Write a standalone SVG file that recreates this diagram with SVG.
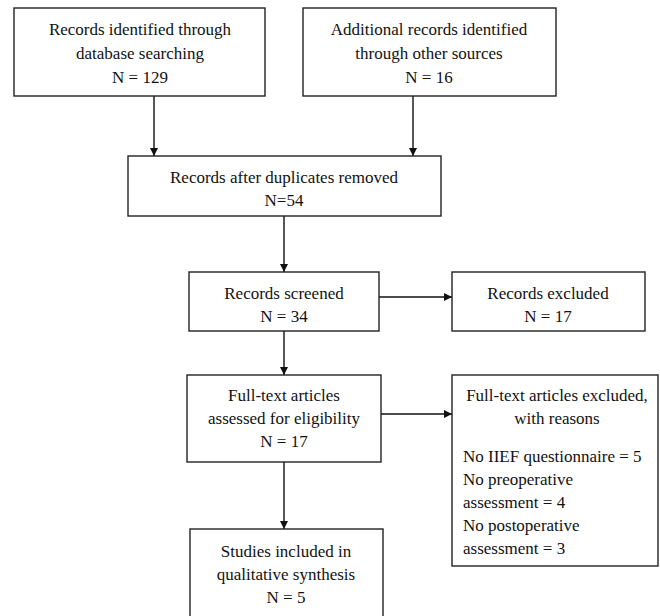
<svg xmlns="http://www.w3.org/2000/svg" width="660" height="616" viewBox="0 0 660 616">
<style>
.box{fill:#fff;stroke:#222;stroke-width:1.4}
text{font-family:"Liberation Serif","Times New Roman",serif;font-size:17px;fill:#111}
.c{text-anchor:middle}
.edge{stroke:#111;stroke-width:1.4;fill:none;marker-end:url(#ah)}
</style>
<defs>
<marker id="ah" markerWidth="10" markerHeight="10" refX="9" refY="5" orient="auto" markerUnits="userSpaceOnUse">
<path d="M1,1 L9,5 L1,9 Z" fill="#111"/>
</marker>
</defs>
<rect width="660" height="616" fill="#fff"/>
<g id="connectors">
<path class="edge" d="M154,96 V156"/>
<path class="edge" d="M413,96 V156"/>
<path class="edge" d="M284,216 V272"/>
<path class="edge" d="M379,297 H452"/>
<path class="edge" d="M284,331 V375"/>
<path class="edge" d="M381,414 H452"/>
<path class="edge" d="M284,462 V529"/>
</g>
<g id="n1">
<rect class="box" x="14" y="8" width="251" height="88"/>
<text class="c" x="140" y="35">Records identified through</text>
<text class="c" x="140" y="59">database searching</text>
<text class="c" x="140" y="83">N = 129</text>
</g>
<g id="n2">
<rect class="box" x="303" y="8" width="253" height="88"/>
<text class="c" x="429" y="35">Additional records identified</text>
<text class="c" x="429" y="59">through other sources</text>
<text class="c" x="429" y="83">N = 16</text>
</g>
<g id="n3">
<rect class="box" x="128" y="156" width="313" height="60"/>
<text class="c" x="284" y="183">Records after duplicates removed</text>
<text class="c" x="284" y="206">N=54</text>
</g>
<g id="n4">
<rect class="box" x="189" y="272" width="190" height="59"/>
<text class="c" x="284" y="299">Records screened</text>
<text class="c" x="284" y="322">N = 34</text>
</g>
<g id="n5">
<rect class="box" x="452" y="272" width="193" height="59"/>
<text class="c" x="548" y="299">Records excluded</text>
<text class="c" x="548" y="322">N = 17</text>
</g>
<g id="n6">
<rect class="box" x="187" y="375" width="194" height="87"/>
<text class="c" x="284" y="401">Full-text articles</text>
<text class="c" x="284" y="424">assessed for eligibility</text>
<text class="c" x="284" y="447">N = 17</text>
</g>
<g id="n7">
<rect class="box" x="452" y="375" width="206" height="191"/>
<text class="c" x="557" y="401">Full-text articles excluded,</text>
<text class="c" x="557" y="424">with reasons</text>
<text x="463" y="462">No IIEF questionnaire = 5</text>
<text x="463" y="485">No preoperative</text>
<text x="463" y="508">assessment = 4</text>
<text x="463" y="531">No postoperative</text>
<text x="463" y="554">assessment = 3</text>
</g>
<g id="n8">
<rect class="box" x="190" y="529" width="193" height="100"/>
<text class="c" x="286" y="557">Studies included in</text>
<text class="c" x="286" y="580">qualitative synthesis</text>
<text class="c" x="286" y="603">N = 5</text>
</g>
</svg>
